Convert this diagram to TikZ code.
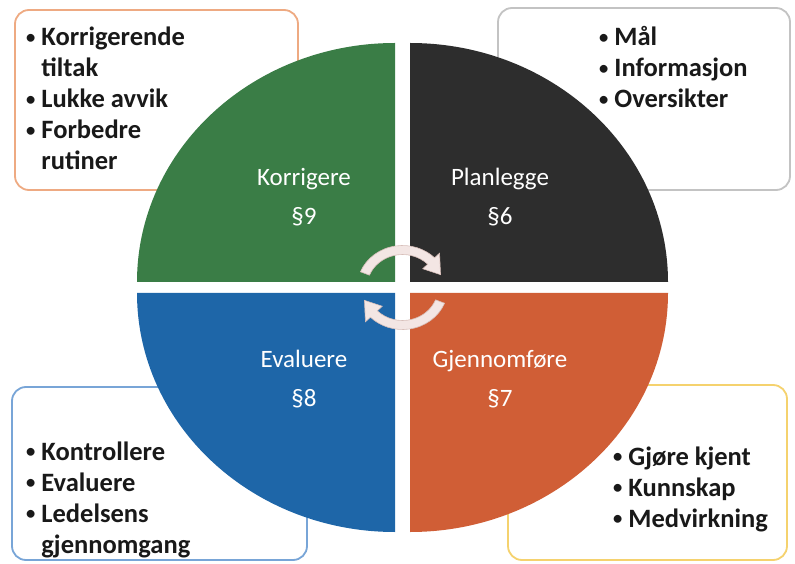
\documentclass[tikz,border=0pt]{standalone}
\usepackage{fontspec}
\setmainfont{Carlito}
\definecolor{grn}{RGB}{58,125,70}
\definecolor{drk}{RGB}{45,45,45}
\definecolor{blu}{RGB}{30,102,168}
\definecolor{org}{RGB}{208,94,54}
\definecolor{edgeTL}{RGB}{238,170,130}
\definecolor{edgeTR}{RGB}{195,195,195}
\definecolor{edgeBL}{RGB}{120,165,215}
\definecolor{edgeBR}{RGB}{245,210,110}
\definecolor{arrowfill}{RGB}{243,230,228}
\definecolor{arrowedge}{RGB}{215,190,185}
\newcommand\blt{\raisebox{2.5pt}{\scalebox{.7}{\textbullet}}}
\begin{document}
\begin{tikzpicture}[x=1pt,y=1pt,
  box/.style={rounded corners=14pt,line width=1.8pt,draw=#1,fill=white},
  lbl/.style={text=white,align=center,inner sep=0pt,font=\fontsize{25}{39}\selectfont},
  items/.style={anchor=base west,inner sep=0pt,text=black!90,font=\fontsize{26.5}{31}\selectfont\bfseries},
  cyclearrow/.style={fill=arrowfill,draw=arrowedge,line width=.6pt}]
\useasboundingbox (0,0) rectangle (795,563);
% boxes behind the circle
\draw[box=edgeTL](15,553) rectangle (298,373);
\draw[box=edgeTR](498,555) rectangle (790,373);
\draw[box=edgeBL](12,176) rectangle (307,3);
\draw[box=edgeBR](508,178) rectangle (787,3);
% the four quarters
\fill[grn](395,281)--(137,281) arc[start angle=180,end angle=90,x radius=258,y radius=239]--cycle;
\fill[drk](410,281)--(410,520) arc[start angle=90,end angle=0,x radius=258,y radius=239]--cycle;
\fill[blu](395,270)--(395,31) arc[start angle=270,end angle=180,x radius=258,y radius=239]--cycle;
\fill[org](410,270)--(668,270) arc[start angle=0,end angle=-90,x radius=258,y radius=239]--cycle;
\node[lbl](korr) at (304,365.5){Korrigere\\§9};
\node[lbl](plan) at (500,365.5){Planlegge\\§6};
\node[lbl](eval) at (304,184){Evaluere\\§8};
\node[lbl](gjen) at (500,184){Gjennomføre\\§7};
% cycle arrows in the middle
\begin{scope}[shift={(402.5,275.5)},xscale=1.08]
\foreach \r in {0,180}
  \filldraw[cyclearrow,rotate=\r](158:42) arc[start angle=158,end angle=45,radius=42]--(45:48.5)--(20:37.5)--(45:26.5)--(45:33) arc[start angle=45,end angle=158,radius=33]--cycle;
\end{scope}
% lists
\node[items](korrList) at (26,517){\begin{tabular}[t]{@{}l@{\hspace{6pt}}l@{}}\blt&Korrigerende\\&tiltak\\\blt&Lukke avvik\\\blt&Forbedre\\&rutiner\end{tabular}};
\node[items](planList) at (599,517){\begin{tabular}[t]{@{}l@{\hspace{6pt}}l@{}}\blt&Mål\\\blt&Informasjon\\\blt&Oversikter\end{tabular}};
\node[items](evalList) at (26,103){\begin{tabular}[t]{@{}l@{\hspace{6pt}}l@{}}\blt&Kontrollere\\\blt&Evaluere\\\blt&Ledelsens\\&gjennomgang\end{tabular}};
\node[items](gjenList) at (613,98){\begin{tabular}[t]{@{}l@{\hspace{6pt}}l@{}}\blt&Gjøre kjent\\\blt&Kunnskap\\\blt&Medvirkning\end{tabular}};
\end{tikzpicture}
\end{document}
